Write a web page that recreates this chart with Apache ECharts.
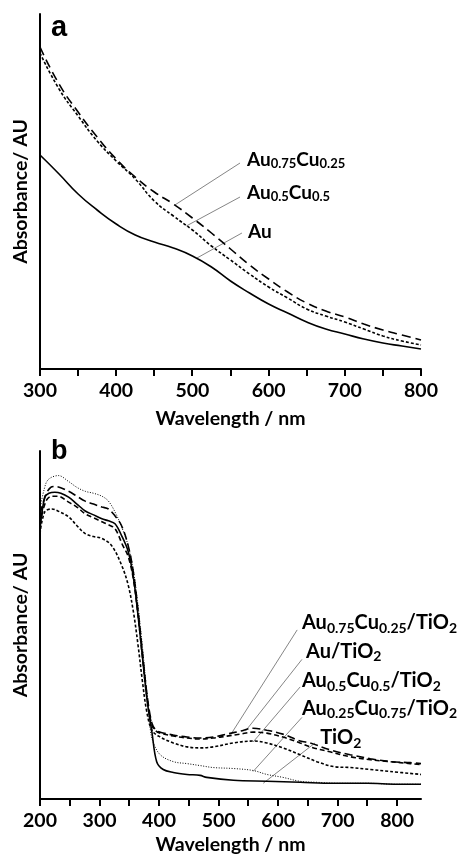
<!DOCTYPE html>
<html><head><meta charset="utf-8">
<script src="https://cdn.jsdelivr.net/npm/echarts@6/dist/echarts.min.js"></script>
<style>html,body{margin:0;padding:0;background:#fff}#c{width:467px;height:856px}</style>
</head><body><div id="c"></div>
<script>
// ---------- Panel a (arbitrary absorbance units) ----------
const aWave = [300,325,350,375,400,425,450,475,500,525,550,575,600,625,650,675,700,725,750,775,800];
const aAu   = [214,195,175,159,145,134,127,121,113,102,88,76,65,56,47,40,35,30,26,23,20];
const aAu75 = [322,285,257,232,210,192,177,165,151,136,120,104,90,77,66,58,52,45,39,34,29];
const aAu50 = [316,280,253,228,208,190,168,153,139,123,109,95,82,71,60,53,47,40,33,28,24];
const aTicks = [300,350,400,450,500,550,600,650,700,750,800];
const aLabels = [300,400,500,600,700,800];

// ---------- Panel b ----------
const bTiO2_x = [200,208,215,225,235,248,262,276,290,304,315,326,337,348,357,365,372,380,388,396,407,424,447,469,480,525,581,637,693,750,800,840];
const bTiO2_y = [275,307,311,312,311,307,300,293,289,285,283,280,268,252,225,185,145,100,68,38,30,27,25,24,22,19,18,17,16,16,15,15];
const bAu25_x = [200,207,214,231,248,262,276,290,304,315,326,337,348,357,365,372,380,385,390,402,424,447,469,491,525,558,581,608,637,665,700,750,800,840];
const bAu25_y = [295,315,325,329,323,317,313,311,308,303,292,277,258,232,195,155,105,72,58,45,38,36,34,32,31,29,25,22,18,17,16,16,15,15];
const bAu75_x = [200,210,218,225,248,262,276,290,304,315,326,337,348,357,365,372,380,388,395,402,424,447,469,491,514,536,558,581,608,637,654,687,721,755,788,822,840];
const bAu75_y = [290,310,317,318,313,308,303,300,297,295,288,278,258,230,190,150,105,77,70,68,65,63,62,63,66,69,72,70,66,59,57,50,45,41,38,37,36];
const bAu_x = [200,210,220,230,248,262,276,290,304,315,326,339,348,357,365,372,380,388,395,402,424,447,469,491,514,536,558,581,608,637,654,687,721,755,788,822,840];
const bAu_y = [280,303,308,308,302,297,290,286,282,279,275,258,247,223,185,145,102,75,69,67,64,62,61,62,64,66,68,67,63,57,53,48,43,40,38,36,35];
const bAu50_x = [200,208,220,230,248,262,276,290,304,320,337,348,357,365,372,379,388,402,424,447,469,491,525,558,581,608,637,665,693,721,755,788,840];
const bAu50_y = [270,292,295,293,287,278,270,267,265,258,238,218,190,155,120,90,70,63,57,53,52,53,57,59,57,52,45,38,33,32,30,28,25];
const bTicks = [200,250,300,350,400,450,500,550,600,650,700,750,800];
const bLabels = [200,300,400,500,600,700,800];

const zip = (xs, ys) => xs.map((x, i) => [x, ys[i]]);
const FONT = 'Lato';
const axisTxt = { fontFamily: FONT, fontWeight: 'bold', fontSize: 19.5, color: '#000' };

function xAx(gi, min, max, labels, gap, margin) {
  return {
    gridIndex: gi, type: 'value', min: min, max: max, interval: 50,
    axisLine: { show: true, onZero: false, lineStyle: { color: '#000', width: 2 } },
    axisTick: { show: false },
    axisLabel: { customValues: labels, margin: margin, ...axisTxt },
    splitLine: { show: false },
    name: 'Wavelength / nm', nameLocation: 'middle', nameGap: gap, nameTextStyle: axisTxt
  };
}
function yAx(gi, max) {
  return {
    gridIndex: gi, type: 'value', min: 0, max: max,
    axisLine: { show: true, onZero: false, lineStyle: { color: '#000', width: 2 } },
    axisTick: { show: false }, axisLabel: { show: false }, splitLine: { show: false },
    name: 'Absorbance/ AU', nameLocation: 'middle', nameGap: 9, nameRotate: 90, nameTextStyle: axisTxt
  };
}
function ser(xi, data, dash, w, sm) {
  return {
    type: 'line', xAxisIndex: xi, yAxisIndex: xi, data: data,
    showSymbol: false, smooth: sm, silent: true,
    lineStyle: { color: '#000', width: w, type: dash }
  };
}

const chart = echarts.init(document.getElementById('c'), null, { renderer: 'canvas' });
chart.setOption({
  animation: false,
  backgroundColor: '#fff',
  grid: [
    { left: 40, top: 14, width: 381, height: 355 },
    { left: 40, top: 451, width: 381, height: 354 }
  ],
  xAxis: [xAx(0, 300, 800, aLabels, 40, 12), xAx(1, 200, 840, bLabels, 36, 12)],
  yAxis: [yAx(0, 355), yAx(1, 354)],
  series: [
    ser(0, zip(aWave, aAu), 'solid', 1.6, 0.5),
    ser(0, zip(aWave, aAu75), [9, 5], 1.6, 0.5),
    ser(0, zip(aWave, aAu50), [3, 2], 1.6, 0.5),
    ser(1, zip(bTiO2_x, bTiO2_y), 'solid', 1.6, 0.35),
    ser(1, zip(bAu25_x, bAu25_y), [1, 1.6], 1, 0.35),
    ser(1, zip(bAu75_x, bAu75_y), [8, 4], 1.6, 0.35),
    ser(1, zip(bAu_x, bAu_y), [5, 3], 1.6, 0.35),
    ser(1, zip(bAu50_x, bAu50_y), [3, 2], 1.6, 0.35)
  ]
});

// ---------- annotations (data coordinates) ----------
const annA = [
  { t: '{m|Au}{s|0.75}{m|Cu}{s|0.25}', at: [571.6, 209], from: [562.5, 206], to: [477, 164] },
  { t: '{m|Au}{s|0.5}{m|Cu}{s|0.5}', at: [571.6, 176], from: [562.5, 172], to: [492, 143] },
  { t: '{m|Au}', at: [573, 137], from: [565, 136], to: [506, 111] }
];
const annB = [
  { t: '{m|Au}{s|0.75}{m|Cu}{s|0.25}{m|/TiO}{s|2}', at: [640, 178], from: [632, 172], to: [523, 68] },
  { t: '{m|Au/TiO}{s|2}', at: [647, 149], from: [640, 142], to: [545, 69] },
  { t: '{m|Au}{s|0.5}{m|Cu}{s|0.5}{m|/TiO}{s|2}', at: [640, 119], from: [637, 114], to: [558, 58] },
  { t: '{m|Au}{s|0.25}{m|Cu}{s|0.75}{m|/TiO}{s|2}', at: [640, 91], from: [640, 83], to: [558, 28] },
  { t: '{m|TiO}{s|2}', at: [670.6, 61], from: [662, 57], to: [575, 16] }
];
function rich(ms, ss, lh, pad) {
  return {
    m: { fontFamily: FONT, fontWeight: 'bold', fontSize: ms, lineHeight: lh, verticalAlign: 'top', fill: '#000' },
    s: { fontFamily: FONT, fontWeight: 'bold', fontSize: ss, lineHeight: ss, padding: [pad, 0, 0, 0], verticalAlign: 'bottom', fill: '#000' }
  };
}
const gfx = [];
function addAnn(list, gi, ms, ss, lh, pad) {
  list.forEach(a => {
    const p = chart.convertToPixel({ gridIndex: gi }, a.at);
    const f = chart.convertToPixel({ gridIndex: gi }, a.from);
    const t = chart.convertToPixel({ gridIndex: gi }, a.to);
    gfx.push({ type: 'line', silent: true, shape: { x1: f[0], y1: f[1], x2: t[0], y2: t[1] }, style: { stroke: '#777', lineWidth: 0.9 } });
    gfx.push({ type: 'text', silent: true, x: p[0], y: p[1] - lh / 2, style: { text: a.t, rich: rich(ms, ss, lh, pad), align: 'left', verticalAlign: 'top' } });
  });
}
// axis tick marks (every 50 nm), placed through the axis scale
function addTicks(ticks, gi) {
  ticks.forEach(v => {
    const p = chart.convertToPixel({ gridIndex: gi }, [v, 0]);
    gfx.push({ type: 'rect', silent: true, z: 100, shape: { x: Math.round(p[0]) - 1, y: Math.round(p[1]), width: 2, height: 7 }, style: { fill: '#000' } });
  });
}
addTicks(aTicks, 0);
addTicks(bTicks, 1);
addAnn(annA, 0, 19, 13, 20, 10);
addAnn(annB, 1, 20, 14, 22, 11);
gfx.push({ type: 'text', silent: true, x: 51, y: 28, style: { text: 'a', fontFamily: 'Liberation Sans', fontWeight: 'bold', fontSize: 29, fill: '#000', verticalAlign: 'middle' } });
gfx.push({ type: 'text', silent: true, x: 51, y: 452, style: { text: 'b', fontFamily: 'Liberation Sans', fontWeight: 'bold', fontSize: 27, fill: '#000', verticalAlign: 'middle' } });
chart.setOption({ graphic: gfx });
</script>
</body></html>
